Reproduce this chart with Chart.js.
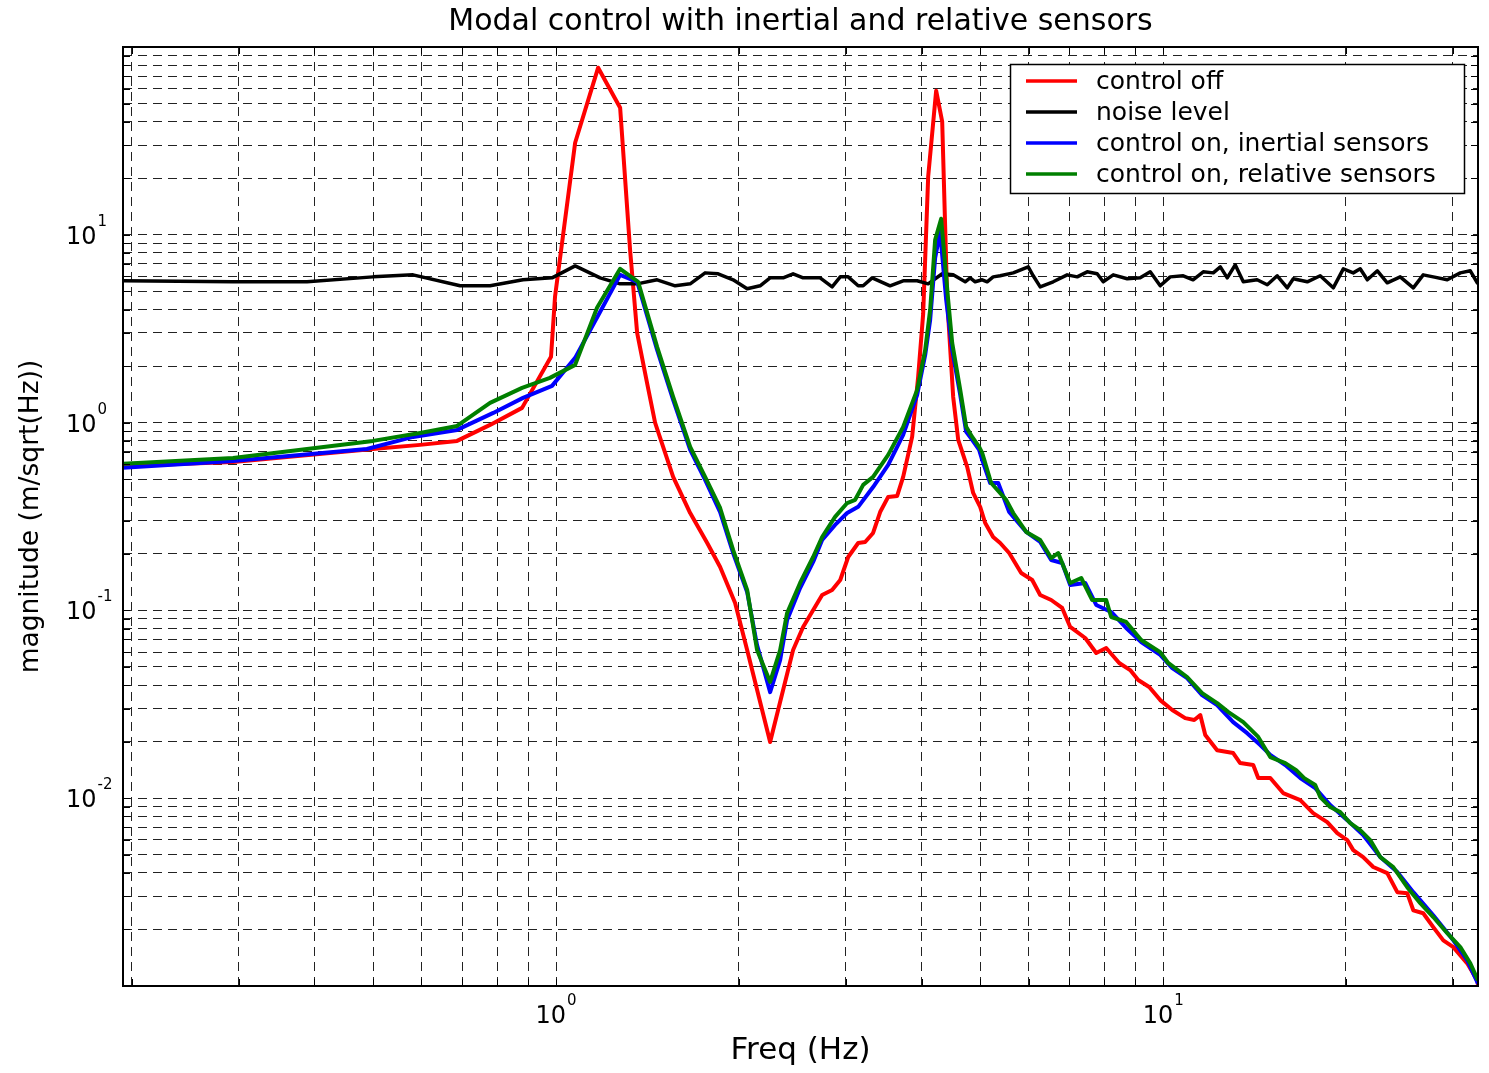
<!DOCTYPE html>
<html>
<head>
<meta charset="utf-8">
<title>Modal control with inertial and relative sensors</title>
<script src="https://cdn.jsdelivr.net/npm/chart.js"></script>
<style>
  html, body { margin: 0; padding: 0; background: #fff; }
  #wrap { width: 1489px; height: 1073px; }
</style>
</head>
<body>
<div id="wrap"><canvas id="chart"></canvas></div>
<script>
// values (Hz, m/sqrt(Hz))

// control off
const offFreq = [0.1935, 0.2937, 0.4994, 0.597, 0.687, 0.7785, 0.879, 0.981, 0.996, 1.075, 1.173, 1.275, 1.324, 1.360, 1.412, 1.456, 1.559, 1.663, 1.774, 1.863, 1.972, 2.064, 2.252, 2.457, 2.552, 2.743, 2.849, 2.938, 3.028, 3.145, 3.229, 3.328, 3.418, 3.524, 3.646, 3.730, 3.859, 3.948, 4.024, 4.101, 4.227, 4.325, 4.408, 4.509, 4.596, 4.755, 4.864, 4.995, 5.091, 5.247, 5.389, 5.576, 5.836, 6.085, 6.272, 6.539, 6.817, 7.028, 7.440, 7.757, 8.056, 8.463, 8.823, 9.095, 9.483, 9.888, 10.35, 10.87, 11.25, 11.51, 11.73, 12.27, 13.04, 13.39, 14.07, 14.34, 15.01, 15.76, 16.82, 17.66, 18.63, 19.35, 20.10, 20.56, 21.35, 22.18, 23.39, 24.30, 25.23, 25.82, 26.81, 27.85, 28.93, 30.05, 31.68, 32.91, 33.0];
const offMag = [0.588, 0.617, 0.724, 0.761, 0.799, 0.972, 1.198, 2.239, 4.674, 30.9, 77.6, 47.5, 8.32, 3.005, 1.627, 0.996, 0.514, 0.330, 0.2286, 0.1703, 0.1095, 0.0615, 0.0199, 0.0615, 0.0816, 0.1208, 0.1285, 0.1452, 0.1925, 0.2286, 0.2314, 0.2584, 0.334, 0.402, 0.407, 0.514, 0.839, 1.752, 3.8, 20.4, 58.5, 40.0, 4.505, 1.370, 0.809, 0.581, 0.422, 0.356, 0.2921, 0.2460, 0.2286, 0.2021, 0.1582, 0.1452, 0.1208, 0.1136, 0.1030, 0.0816, 0.0713, 0.0593, 0.0631, 0.0525, 0.0481, 0.0426, 0.0391, 0.0333, 0.0295, 0.0267, 0.0261, 0.0277, 0.0217, 0.0180, 0.0174, 0.01538, 0.01501, 0.01280, 0.01280, 0.01065, 0.00977, 0.00833, 0.00746, 0.00652, 0.00598, 0.00529, 0.00486, 0.00430, 0.00399, 0.00316, 0.00312, 0.00253, 0.00244, 0.00206, 0.00175, 0.00161, 0.00132, 0.00107, 0.00101];

// noise level
const noiseFreq = [0.1935, 0.2937, 0.3889, 0.4994, 0.5813, 0.6949, 0.7785, 0.8822, 0.9849, 1.075, 1.182, 1.275, 1.360, 1.467, 1.571, 1.663, 1.760, 1.849, 1.957, 2.064, 2.168, 2.252, 2.366, 2.457, 2.552, 2.722, 2.849, 2.938, 3.028, 3.145, 3.205, 3.316, 3.549, 3.730, 3.933, 4.101, 4.325, 4.509, 4.719, 4.809, 4.901, 5.033, 5.129, 5.247, 5.389, 5.662, 5.881, 5.994, 6.108, 6.272, 6.589, 6.948, 7.217, 7.495, 7.785, 7.965, 8.274, 8.725, 9.165, 9.520, 9.888, 10.27, 10.79, 11.20, 11.64, 12.09, 12.42, 12.75, 13.14, 13.55, 14.28, 14.84, 15.41, 16.01, 16.38, 17.27, 18.14, 19.06, 19.80, 20.56, 21.11, 21.69, 22.53, 23.39, 24.57, 25.82, 26.81, 27.85, 29.37, 30.86, 32.05, 32.91, 33.0];
const noiseMag = [5.69, 5.62, 5.62, 5.97, 6.12, 5.35, 5.35, 5.76, 5.90, 6.83, 5.90, 5.48, 5.48, 5.76, 5.35, 5.48, 6.27, 6.20, 5.76, 5.16, 5.35, 5.90, 5.90, 6.20, 5.90, 5.90, 5.28, 5.97, 5.97, 5.35, 5.35, 5.90, 5.35, 5.69, 5.69, 5.48, 6.20, 6.12, 5.62, 5.90, 5.62, 5.76, 5.62, 5.97, 6.05, 6.27, 6.59, 6.75, 6.05, 5.28, 5.62, 6.12, 5.97, 6.35, 6.20, 5.62, 6.12, 5.83, 5.90, 6.35, 5.35, 5.97, 6.05, 5.76, 6.35, 6.27, 6.75, 5.90, 6.92, 5.62, 5.76, 5.42, 6.05, 5.22, 5.83, 5.62, 6.05, 5.22, 6.59, 6.27, 6.59, 5.76, 6.43, 5.55, 5.97, 5.22, 6.12, 5.97, 5.76, 6.27, 6.43, 5.55, 5.83];

// control on, inertial sensors
const inertialFreq = [0.1935, 0.2937, 0.488, 0.5813, 0.687, 0.788, 0.8822, 0.9849, 1.075, 1.182, 1.275, 1.360, 1.467, 1.559, 1.663, 1.760, 1.863, 1.957, 2.064, 2.143, 2.252, 2.339, 2.402, 2.523, 2.651, 2.743, 2.881, 3.016, 3.145, 3.328, 3.524, 3.730, 3.933, 4.055, 4.132, 4.211, 4.291, 4.391, 4.492, 4.631, 4.737, 4.846, 4.976, 5.033, 5.188, 5.349, 5.576, 5.948, 6.272, 6.539, 6.817, 7.028, 7.440, 7.757, 8.210, 8.690, 9.200, 9.888, 10.35, 10.95, 11.59, 12.27, 13.04, 13.75, 14.45, 15.01, 15.89, 16.82, 17.80, 18.84, 20.10, 21.35, 22.78, 24.30, 25.82, 27.85, 30.05, 31.68, 33.0];
const inertialMag = [0.574, 0.625, 0.724, 0.839, 0.914, 1.126, 1.354, 1.569, 2.212, 3.889, 6.12, 5.62, 2.439, 1.321, 0.715, 0.495, 0.334, 0.2021, 0.1253, 0.0654, 0.0367, 0.0544, 0.0889, 0.1316, 0.1811, 0.2371, 0.2851, 0.330, 0.356, 0.454, 0.595, 0.860, 1.405, 2.293, 3.524, 7.54, 10.37, 4.505, 2.439, 1.405, 0.892, 0.809, 0.715, 0.633, 0.477, 0.477, 0.334, 0.2616, 0.2314, 0.1855, 0.1789, 0.1366, 0.1400, 0.1069, 0.0981, 0.0806, 0.0679, 0.0579, 0.0493, 0.0436, 0.0354, 0.0313, 0.0254, 0.0222, 0.0192, 0.0170, 0.01501, 0.01280, 0.01132, 0.00919, 0.00764, 0.00636, 0.00486, 0.00404, 0.00316, 0.00238, 0.00175, 0.00137, 0.00103];

// control on, relative sensors
const relativeFreq = [0.1935, 0.2937, 0.3889, 0.4994, 0.597, 0.687, 0.7785, 0.879, 0.977, 1.075, 1.168, 1.275, 1.365, 1.467, 1.559, 1.663, 1.760, 1.863, 1.957, 2.064, 2.143, 2.252, 2.339, 2.402, 2.523, 2.651, 2.743, 2.881, 3.016, 3.109, 3.205, 3.328, 3.524, 3.730, 3.933, 4.055, 4.132, 4.211, 4.308, 4.424, 4.492, 4.631, 4.737, 4.846, 4.976, 5.033, 5.208, 5.513, 5.662, 5.948, 6.272, 6.539, 6.714, 7.028, 7.328, 7.640, 8.056, 8.210, 8.690, 9.200, 9.888, 10.19, 10.95, 11.59, 12.27, 12.79, 13.55, 14.34, 15.01, 15.89, 16.56, 17.07, 17.80, 18.14, 18.84, 19.57, 20.33, 21.11, 21.93, 22.78, 23.93, 25.23, 26.51, 27.85, 29.37, 30.86, 32.05, 33.0];
const relativeMag = [0.603, 0.648, 0.724, 0.799, 0.881, 0.960, 1.273, 1.530, 1.730, 2.030, 4.084, 6.59, 5.62, 2.531, 1.370, 0.742, 0.514, 0.351, 0.2098, 0.1285, 0.0615, 0.0416, 0.0615, 0.0969, 0.1400, 0.1925, 0.2460, 0.3146, 0.373, 0.388, 0.466, 0.514, 0.673, 0.949, 1.494, 2.439, 3.985, 9.41, 12.17, 4.505, 2.658, 1.494, 0.949, 0.839, 0.742, 0.690, 0.477, 0.388, 0.330, 0.2616, 0.2371, 0.1901, 0.2021, 0.1400, 0.1488, 0.1136, 0.1136, 0.0922, 0.0868, 0.0696, 0.0600, 0.0525, 0.0442, 0.0363, 0.0321, 0.0288, 0.0254, 0.0212, 0.01656, 0.01538, 0.01412, 0.01280, 0.01175, 0.01014, 0.00897, 0.00843, 0.00737, 0.00676, 0.00598, 0.00486, 0.00430, 0.00336, 0.00276, 0.00233, 0.00191, 0.00161, 0.00132, 0.00107];

// axis limits and decade tick labels (exponents of 10)
const xMin = 0.1935, xMax = 33;
const yMin = 0.001, yMax = 100;
const xDecades = [-1, 0, 1];
const yDecades = [-3, -2, -1, 0, 1, 2];
const xLabelExp = [0, 1];
const yLabelExp = [1, 0, -1, -2];

const FONT = "'DejaVu Sans', sans-serif";

function pairs(fs, ms) {
    return fs.map((f, i) => ({ x: f, y: ms[i] }));
}

// 1..9 x 10^n grid, like matlab minor grid
function logTicks(decades, min, max) {
    const out = [];
    decades.forEach(e => {
        for (let s = 1; s <= 9; s++) {
            const v = s * Math.pow(10, e);
            if (v >= min * 0.999 && v <= max * 1.001) out.push({ value: v });
        }
    });
    return out;
}

// "10" with superscript exponent, baseline at y
function drawPow(ctx, exp, x, y, centered) {
    ctx.font = `24px ${FONT}`;
    const wb = ctx.measureText('10').width;
    ctx.font = `15px ${FONT}`;
    const ws = ctx.measureText(String(exp)).width;
    const left = centered ? x - (wb + 1 + ws) / 2 : x;
    ctx.font = `24px ${FONT}`;
    ctx.fillText('10', left, y);
    ctx.font = `15px ${FONT}`;
    ctx.fillText(String(exp), left + wb + 1, y - 18);
}

const axesFrame = {
    id: 'axesFrame',
    afterDraw(chart) {
        const { ctx, chartArea: a, scales } = chart;
        const xs = scales.x, ys = scales.y;
        ctx.save();

        // inner tick marks on all four sides
        ctx.strokeStyle = '#000';
        ctx.lineWidth = 1;
        ctx.beginPath();
        xs.ticks.forEach(t => {
            const p = Math.round(xs.getPixelForValue(t.value)) + 0.5;
            ctx.moveTo(p, a.bottom); ctx.lineTo(p, a.bottom - 7);
            ctx.moveTo(p, a.top); ctx.lineTo(p, a.top + 7);
        });
        ys.ticks.forEach(t => {
            const p = Math.round(ys.getPixelForValue(t.value)) + 0.5;
            ctx.moveTo(a.left, p); ctx.lineTo(a.left + 7, p);
            ctx.moveTo(a.right, p); ctx.lineTo(a.right - 7, p);
        });
        ctx.stroke();

        // box
        ctx.lineWidth = 2;
        ctx.strokeRect(Math.round(a.left), Math.round(a.top), Math.round(a.width), Math.round(a.height));

        // tick labels
        ctx.fillStyle = '#000';
        ctx.textAlign = 'left';
        ctx.textBaseline = 'alphabetic';
        yLabelExp.forEach(e => {
            const p = ys.getPixelForValue(Math.pow(10, e));
            drawPow(ctx, e, a.left - 57, p + 9, false);
        });
        xLabelExp.forEach(e => {
            const p = xs.getPixelForValue(Math.pow(10, e));
            drawPow(ctx, e, p, a.bottom + 37, true);
        });

        // legend box, upper right
        const lg = { x: Math.round(a.right) - 468, y: Math.round(a.top) + 17, w: 454, h: 129 };
        ctx.fillStyle = '#fff';
        ctx.fillRect(lg.x, lg.y, lg.w, lg.h);
        ctx.lineWidth = 1.5;
        ctx.strokeStyle = '#000';
        ctx.strokeRect(lg.x + 0.5, lg.y + 0.5, lg.w, lg.h);
        ctx.font = `25px ${FONT}`;
        ctx.textBaseline = 'middle';
        chart.data.datasets.forEach((ds, i) => {
            const cy = lg.y + 17 + i * 31;
            ctx.strokeStyle = ds.borderColor;
            ctx.lineWidth = 3.5;
            ctx.beginPath();
            ctx.moveTo(lg.x + 16, cy);
            ctx.lineTo(lg.x + 67, cy);
            ctx.stroke();
            ctx.fillStyle = '#000';
            ctx.fillText(ds.label, lg.x + 86, cy + 1);
        });

        ctx.restore();
    }
};

const gridOpts = { color: '#222', lineWidth: 1, drawTicks: false };
const borderOpts = { display: false, dash: [9, 6] };

new Chart(document.getElementById('chart'), {
    type: 'line',
    data: {
        datasets: [
            { label: 'control off', data: pairs(offFreq, offMag), borderColor: '#ff0000', order: 4 },
            { label: 'noise level', data: pairs(noiseFreq, noiseMag), borderColor: '#000000', order: 3, borderWidth: 3.5 },
            { label: 'control on, inertial sensors', data: pairs(inertialFreq, inertialMag), borderColor: '#0000ff', order: 2 },
            { label: 'control on, relative sensors', data: pairs(relativeFreq, relativeMag), borderColor: '#007f00', order: 1 }
        ]
    },
    options: {
        responsive: true,
        maintainAspectRatio: false,
        animation: false,
        datasets: {
            line: { borderWidth: 4, pointRadius: 0, tension: 0, fill: false, borderJoinStyle: 'round' }
        },
        layout: { padding: { left: 0, right: 11, top: 0, bottom: 0 } },
        plugins: {
            legend: { display: false },
            tooltip: { enabled: false },
            title: {
                display: true,
                fullSize: false,
                text: 'Modal control with inertial and relative sensors',
                color: '#000',
                font: { family: FONT, size: 30, weight: 'normal' },
                padding: { top: 4, bottom: 7 }
            }
        },
        scales: {
            x: {
                type: 'logarithmic',
                min: xMin,
                max: xMax,
                afterBuildTicks: s => { s.ticks = logTicks(xDecades, s.min, s.max); },
                afterFit: s => { s.height = 87; },
                grid: gridOpts,
                border: borderOpts,
                ticks: { display: false },
                title: {
                    display: true,
                    text: 'Freq (Hz)',
                    color: '#000',
                    font: { family: FONT, size: 31 },
                    padding: { top: 0, bottom: 3 }
                }
            },
            y: {
                type: 'logarithmic',
                min: yMin,
                max: yMax,
                afterBuildTicks: s => { s.ticks = logTicks(yDecades, s.min, s.max); },
                afterFit: s => { s.width = 123; },
                grid: gridOpts,
                border: borderOpts,
                ticks: { display: false },
                title: {
                    display: true,
                    text: 'magnitude (m/sqrt(Hz))',
                    color: '#000',
                    font: { family: FONT, size: 26.5 },
                    padding: { top: 15, bottom: 0 }
                }
            }
        }
    },
    plugins: [axesFrame]
});
</script>
</body>
</html>
